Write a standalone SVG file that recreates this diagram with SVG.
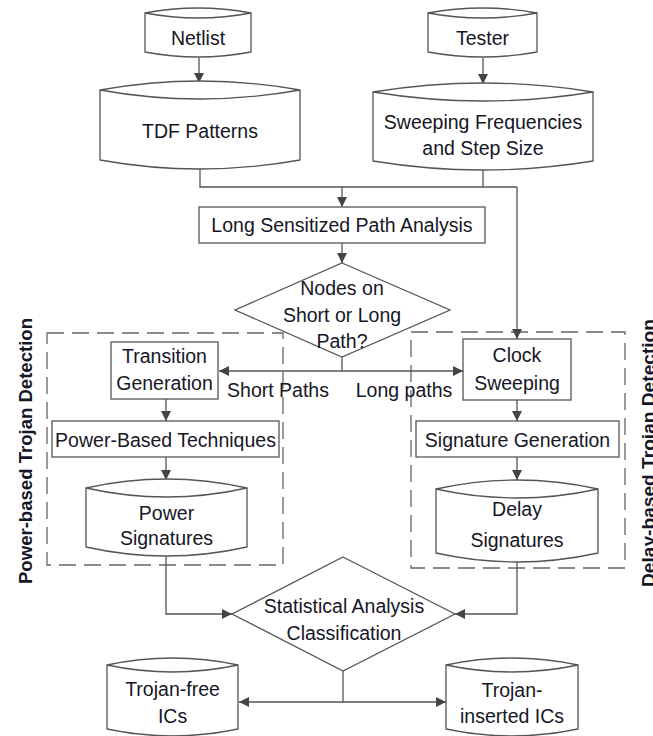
<svg xmlns="http://www.w3.org/2000/svg" width="653" height="736" viewBox="0 0 653 736">
<defs>
<style>
text{font-family:"Liberation Sans",Arial,sans-serif;font-size:19.5px;fill:#161626;text-anchor:middle}
.sh{fill:#fff;stroke:#555;stroke-width:1.3}
.ln{fill:none;stroke:#555;stroke-width:1.3}
.ar{fill:none;stroke:#555;stroke-width:1.3;marker-end:url(#ah)}
.dash{fill:none;stroke:#666;stroke-width:1.3;stroke-dasharray:17 8}
.side{font-weight:bold;font-size:19px}
</style>
<marker id="ah" viewBox="0 0 10 10" refX="10" refY="5" markerWidth="10" markerHeight="10" markerUnits="userSpaceOnUse" orient="auto">
<path d="M0,0 L10,5 L0,10 Z" fill="#444"/>
</marker>
</defs>

<g id="groups">
<rect class="dash" x="47" y="333" width="236" height="232"/>
<rect class="dash" x="411" y="332" width="214" height="236"/>
<text class="side" transform="translate(32,451) rotate(-90)" textLength="266" lengthAdjust="spacingAndGlyphs">Power-based Trojan Detection</text>
<text class="side" transform="translate(655,453) rotate(-90)" textLength="268" lengthAdjust="spacingAndGlyphs">Delay-based Trojan Detection</text>
</g>

<g id="connectors">
<path class="ar" d="M199,58 V83"/>
<path class="ar" d="M483,58 V84"/>
<path class="ln" d="M200,169 V187 H517"/>
<path class="ln" d="M483,170 V187"/>
<path class="ar" d="M342,187 V207"/>
<path class="ar" d="M517,187 V339"/>
<path class="ar" d="M342,243 V263"/>
<path class="ln" d="M342,357 V371"/>
<path class="ar" d="M342,371 H219"/>
<path class="ar" d="M342,371 H463"/>
<path class="ar" d="M166,399 V421"/>
<path class="ar" d="M166,457 V480"/>
<path class="ar" d="M517,400 V421"/>
<path class="ar" d="M517,457 V480"/>
<path class="ar" d="M166,556 V614 H232"/>
<path class="ar" d="M517,561 V614 H455"/>
<path class="ln" d="M343,671 V702"/>
<path class="ar" d="M343,702 H239"/>
<path class="ar" d="M343,702 H446"/>
</g>

<g id="netlist">
<path class="sh" d="M145,13 Q198,3 251,13 L251,52 Q198,62 145,52 Z"/>
<path class="ln" d="M145,13 Q198,23 251,13"/>
<text x="198" y="45">Netlist</text>
</g>

<g id="tester">
<path class="sh" d="M428,13 Q482.5,3 537,13 L537,52 Q482.5,62 428,52 Z"/>
<path class="ln" d="M428,13 Q482.5,23 537,13"/>
<text x="482.5" y="45">Tester</text>
</g>

<g id="tdf">
<path class="sh" d="M100,90 Q200,72 300,90 L300,160 Q200,178 100,160 Z"/>
<path class="ln" d="M100,90 Q200,108 300,90"/>
<text x="200" y="138">TDF Patterns</text>
</g>

<g id="sweepfreq">
<path class="sh" d="M373,92 Q483,74 593,92 L593,161 Q483,179 373,161 Z"/>
<path class="ln" d="M373,92 Q483,110 593,92"/>
<text x="483" y="129">Sweeping Frequencies</text>
<text x="483" y="155">and Step Size</text>
</g>

<g id="lspa">
<rect class="sh" x="199" y="207" width="286" height="36"/>
<text x="342" y="232">Long Sensitized Path Analysis</text>
</g>

<g id="decision">
<path class="sh" d="M342,263 L450,310 L342,357 L235,310 Z"/>
<text x="342" y="295">Nodes on</text>
<text x="342" y="322">Short or Long</text>
<text x="342" y="348">Path?</text>
</g>

<g id="labels">
<text x="278" y="397">Short Paths</text>
<text x="404" y="397">Long paths</text>
</g>

<g id="transition">
<rect class="sh" x="111" y="342" width="107" height="57"/>
<text x="164.5" y="363">Transition</text>
<text x="164.5" y="390">Generation</text>
</g>

<g id="powertech">
<rect class="sh" x="52" y="421" width="227" height="36"/>
<text x="165.5" y="447">Power-Based Techniques</text>
</g>

<g id="powersig">
<path class="sh" d="M86,488 Q166.5,470 247,488 L247,547 Q166.5,565 86,547 Z"/>
<path class="ln" d="M86,488 Q166.5,506 247,488"/>
<text x="166.5" y="520">Power</text>
<text x="166.5" y="545">Signatures</text>
</g>

<g id="clock">
<rect class="sh" x="463" y="339" width="108" height="61"/>
<text x="517" y="362">Clock</text>
<text x="517" y="390">Sweeping</text>
</g>

<g id="siggen">
<rect class="sh" x="416" y="421" width="203" height="36"/>
<text x="517.5" y="447">Signature Generation</text>
</g>

<g id="delaysig">
<path class="sh" d="M436,489 Q517,471 598,489 L598,553 Q517,571 436,553 Z"/>
<path class="ln" d="M436,489 Q517,507 598,489"/>
<text x="517" y="516">Delay</text>
<text x="517" y="547">Signatures</text>
</g>

<g id="stat">
<path class="sh" d="M343,557 L455,614 L343,671 L232,614 Z"/>
<text x="344" y="613">Statistical Analysis</text>
<text x="344" y="640">Classification</text>
</g>

<g id="trojanfree">
<path class="sh" d="M107,665 Q172.5,651 238,665 L238,729 Q172.5,743 107,729 Z"/>
<path class="ln" d="M107,665 Q172.5,679 238,665"/>
<text x="172.5" y="696">Trojan-free</text>
<text x="172.5" y="723">ICs</text>
</g>

<g id="trojanins">
<path class="sh" d="M446,665 Q512,651 578,665 L578,729 Q512,743 446,729 Z"/>
<path class="ln" d="M446,665 Q512,679 578,665"/>
<text x="512" y="697">Trojan-</text>
<text x="512" y="723">inserted ICs</text>
</g>
</svg>
